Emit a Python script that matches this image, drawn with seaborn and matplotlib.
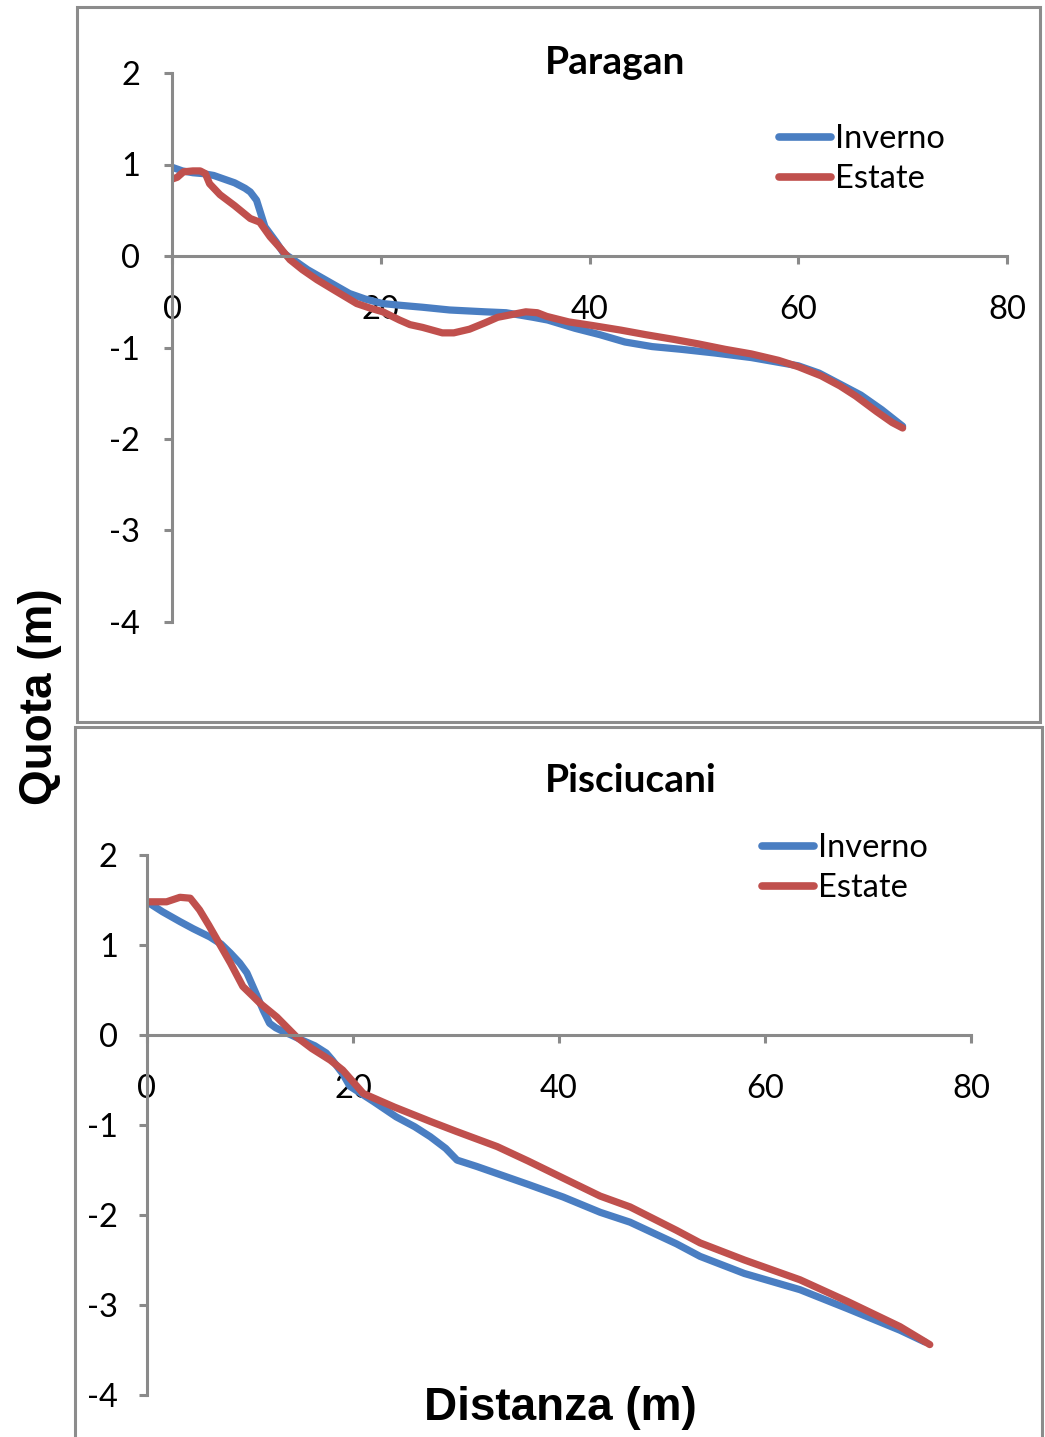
import matplotlib
matplotlib.use("Agg")
import matplotlib.pyplot as plt
import matplotlib.patches as mpatches
import seaborn as sns
import pandas as pd

# ---------------- data ----------------
par_inv_x = [0, 1, 2, 3, 4, 5, 6, 7, 7.5, 8.1, 8.9, 10, 10.7, 12, 13, 15, 17, 18.5, 20.2, 22, 24,
             26.6, 30, 32, 34.6, 36, 38.6, 41, 43.4, 46, 48.8, 52, 55.5, 58, 60, 62, 64, 66, 68, 70]
par_inv_y = [0.97, 0.93, 0.91, 0.90, 0.88, 0.84, 0.80, 0.74, 0.70, 0.61, 0.32, 0.15, 0.03, -0.07,
             -0.15, -0.28, -0.41, -0.47, -0.52, -0.54, -0.56, -0.59, -0.61, -0.62, -0.67, -0.70,
             -0.79, -0.86, -0.94, -0.99, -1.02, -1.06, -1.11, -1.16, -1.20, -1.28, -1.40, -1.52,
             -1.68, -1.86]
par_est_x = [0, 0.5, 1.1, 2, 2.7, 3.2, 3.6, 4.6, 6, 7.5, 8.4, 9.4, 10.5, 11.3, 12.5, 13.9, 15.5,
             17.7, 19, 20.2, 21.8, 22.8, 24, 25.9, 27, 28.5, 30, 31.2, 33, 33.9, 35, 35.9, 38,
             40.3, 43, 45.4, 48, 50.4, 53, 55.5, 58.1, 60, 62.2, 64, 65.5, 67.5, 69, 70]
par_est_y = [0.84, 0.86, 0.92, 0.93, 0.93, 0.90, 0.79, 0.67, 0.55, 0.41, 0.37, 0.21, 0.07, -0.04,
             -0.15, -0.26, -0.37, -0.52, -0.57, -0.61, -0.70, -0.75, -0.78, -0.84, -0.84, -0.80,
             -0.73, -0.67, -0.63, -0.61, -0.62, -0.66, -0.72, -0.76, -0.81, -0.86, -0.91, -0.96,
             -1.02, -1.07, -1.14, -1.21, -1.31, -1.42, -1.53, -1.70, -1.82, -1.88]

pis_inv_x = [0, 1.5, 3.2, 4.5, 6.1, 7.2, 8.1, 9, 9.7, 10.2, 10.7, 11.3, 11.9, 12.5, 13.2, 14, 15.1,
             16.3, 17.4, 18, 19, 19.7, 22, 24.2, 26, 27.5, 29, 30.1, 32, 34, 37, 40.4, 44, 46.9,
             51.4, 53.7, 58, 63.4, 68, 73.1, 75.5]
pis_inv_y = [1.48, 1.37, 1.26, 1.18, 1.09, 1.01, 0.91, 0.80, 0.69, 0.56, 0.43, 0.27, 0.13, 0.08,
             0.04, 0.0, -0.06, -0.12, -0.20, -0.28, -0.43, -0.57, -0.74, -0.91, -1.02, -1.13,
             -1.26, -1.39, -1.46, -1.54, -1.66, -1.80, -1.97, -2.08, -2.32, -2.46, -2.65, -2.83,
             -3.04, -3.28, -3.41]
pis_est_x = [0, 1.9, 3.2, 4.2, 5.1, 6, 6.8, 8.1, 9.3, 10.2, 11, 12.6, 14.5, 16, 17.8, 19, 21, 24,
             27.5, 30, 34, 37, 40.4, 44, 46.9, 51.4, 53.7, 58, 63.4, 68, 73.1, 76]
pis_est_y = [1.48, 1.48, 1.53, 1.52, 1.39, 1.22, 1.06, 0.80, 0.54, 0.44, 0.35, 0.20, -0.02, -0.15,
             -0.28, -0.39, -0.65, -0.80, -0.96, -1.07, -1.24, -1.40, -1.59, -1.79, -1.91, -2.17,
             -2.31, -2.50, -2.72, -2.96, -3.24, -3.44]

series_names = ["Inverno", "Estate"]
titles = ["Paragan", "Pisciucani"]
x_ticks = [0, 20, 40, 60, 80]
y_ticks = [-4, -3, -2, -1, 0, 1, 2]
x_label = "Distanza (m)"
y_label = "Quota (m)"

# ---------------- style ----------------
sns.set_style("white")
plt.rcParams["font.family"] = ["Lato", "DejaVu Sans"]
plt.rcParams["axes.unicode_minus"] = False
plt.rcParams["text.color"] = "black"

palette = {"Inverno": "#4A7EC2", "Estate": "#C0504D"}
spine_col = "#8A8A8A"

W, H = 1045, 1437
fig = plt.figure(figsize=(W / 100, H / 100), dpi=100)


def fx(px):
    return px / W


def fy(py):
    return 1 - py / H


# panel frames
for (l, t, r, b) in [(77, 7, 1040, 722), (75, 727, 1042, 1445)]:
    fig.patches.append(mpatches.Rectangle((fx(l), fy(b)), fx(r) - fx(l), fy(t) - fy(b),
                                          transform=fig.transFigure, fill=False,
                                          edgecolor="#8C8C8C", linewidth=2.2, zorder=0))

panels = [
    dict(rect=(172, 1007, 73, 622), inv=(par_inv_x, par_inv_y), est=(par_est_x, par_est_y),
         title=titles[0], tpos=(615, 62), leg=(779, 124), ypad=17),
    dict(rect=(147, 971, 855, 1395), inv=(pis_inv_x, pis_inv_y), est=(pis_est_x, pis_est_y),
         title=titles[1], tpos=(631, 781), leg=(762, 833), ypad=15),
]

for p in panels:
    l, r, t, b = p["rect"]
    ax = fig.add_axes([fx(l), fy(b), fx(r) - fx(l), fy(t) - fy(b)])
    df = pd.concat([
        pd.DataFrame({"x": p["inv"][0], "y": p["inv"][1], "Stagione": series_names[0]}),
        pd.DataFrame({"x": p["est"][0], "y": p["est"][1], "Stagione": series_names[1]}),
    ])
    sns.lineplot(data=df, x="x", y="y", hue="Stagione", palette=palette, ax=ax,
                 linewidth=5.2, solid_capstyle="round", solid_joinstyle="round", legend=True)
    ax.set_xlim(0, 80)
    ax.set_ylim(-4, 2)
    ax.set_xticks(x_ticks)
    ax.set_yticks(y_ticks)
    ax.set_xlabel("")
    ax.set_ylabel("")
    ax.patch.set_alpha(0)
    for s in ["top", "right"]:
        ax.spines[s].set_visible(False)
    ax.spines["bottom"].set_position(("data", 0))
    for s in ["left", "bottom"]:
        ax.spines[s].set_color(spine_col)
        ax.spines[s].set_linewidth(2.2)
    ax.tick_params(axis="x", bottom=True, direction="out", length=6, width=2.2, color=spine_col,
                   labelsize=23.5, pad=22, labelcolor="black")
    ax.tick_params(axis="y", left=True, direction="out", length=6, width=2.2, color=spine_col,
                   labelsize=23.5, pad=p["ypad"], labelcolor="black")
    ax.grid(False)
    leg = ax.legend(loc="upper left", bbox_to_anchor=(fx(p["leg"][0]), fy(p["leg"][1])),
                    bbox_transform=fig.transFigure, frameon=False, fontsize=23.5,
                    handlelength=1.6, handletextpad=0.12, labelspacing=0.32,
                    borderpad=0, borderaxespad=0)
    for txt in leg.get_texts():
        txt.set_color("black")
    for line in leg.get_lines():
        line.set_linewidth(5.5)
        line.set_solid_capstyle("round")
    fig.text(fx(p["tpos"][0]), fy(p["tpos"][1]), p["title"], ha="center", va="center",
             fontsize=28, fontweight="bold", color="black")

fig.text(fx(40), fy(697), y_label, rotation=90, ha="center", va="center", color="black",
         fontsize=33, fontweight="bold", family=["Liberation Sans", "DejaVu Sans"])
fig.text(fx(560), fy(1408), x_label, ha="center", va="center", color="black",
         fontsize=33, fontweight="bold", family=["Liberation Sans", "DejaVu Sans"])

fig.savefig("out.png", dpi=100)
